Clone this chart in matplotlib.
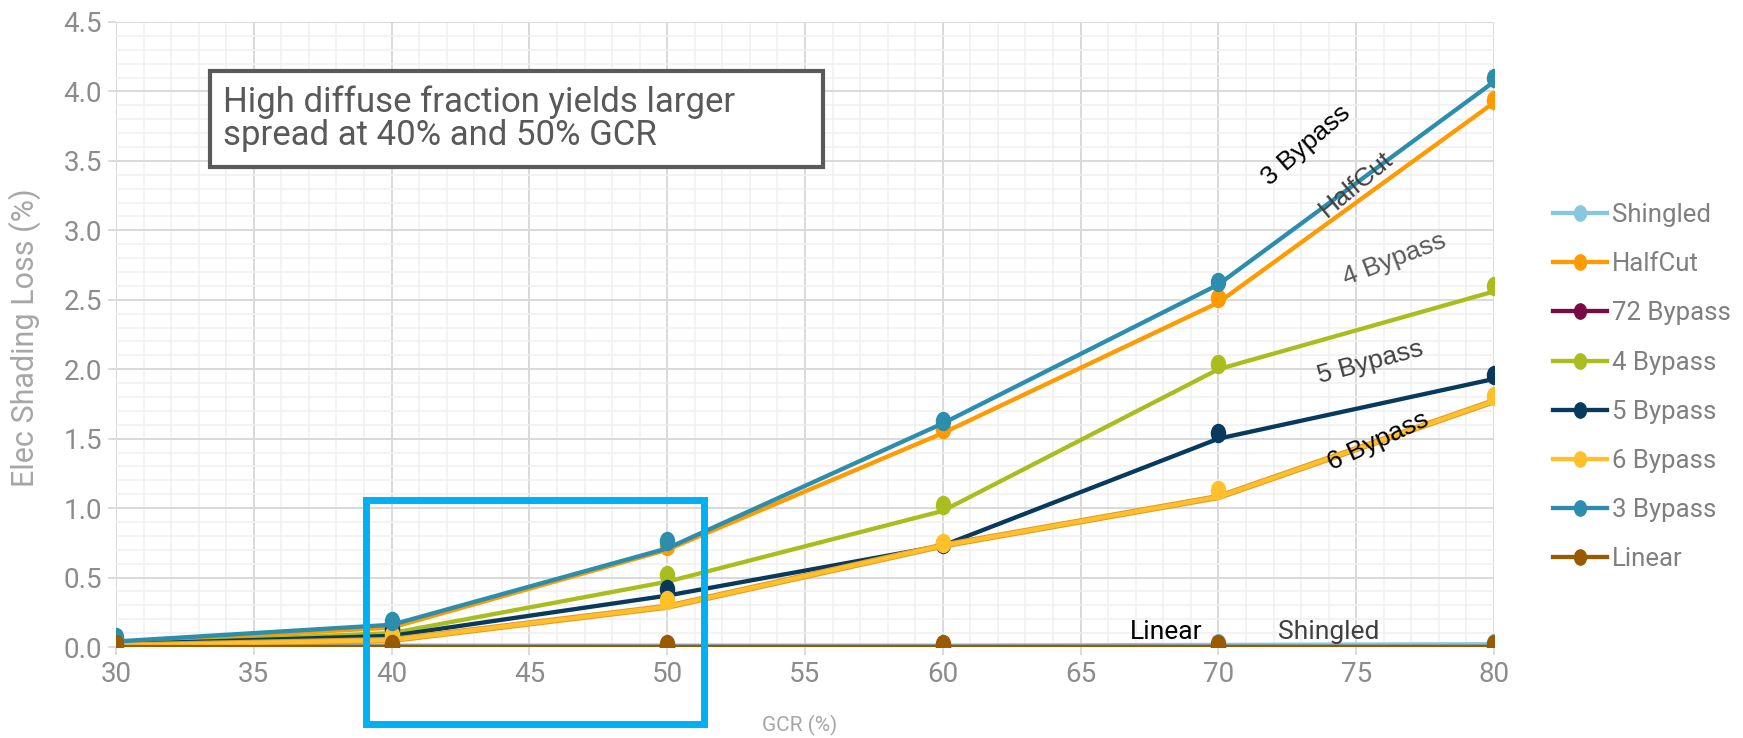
import numpy as np
import matplotlib
matplotlib.use("Agg")
import matplotlib.pyplot as plt
from matplotlib.path import Path
from matplotlib.transforms import Affine2D
from matplotlib.lines import Line2D
from matplotlib.patches import Rectangle
import matplotlib.patheffects as pe

# data
gcr = [30, 40, 50, 60, 70, 80]

series_names = ["Shingled", "HalfCut", "72 Bypass", "4 Bypass",
                "5 Bypass", "6 Bypass", "3 Bypass", "Linear"]

# line values
shingled = [0.01, 0.01, 0.01, 0.01, 0.015, 0.02]
halfcut = [0.03, 0.14, 0.70, 1.54, 2.48, 3.92]
bypass72 = [0.0, 0.0, 0.0, 0.0, 0.0, 0.0]
bypass4 = [0.02, 0.10, 0.47, 0.98, 2.00, 2.56]
bypass5 = [0.02, 0.08, 0.37, 0.73, 1.50, 1.93]
bypass6 = [0.01, 0.05, 0.29, 0.73, 1.08, 1.77]
bypass3 = [0.04, 0.16, 0.71, 1.61, 2.61, 4.07]
linear = [0.0, 0.0, 0.0, 0.0, 0.0, 0.0]

# marker values (markers sit a little off the lines in the original)
shingled_pts = [0.01, 0.01, 0.01, 0.01, 0.03, 0.03]
halfcut_pts = [0.05, 0.15, 0.73, 1.57, 2.51, 3.94]
bypass72_pts = [0.01, 0.01, 0.01, 0.01, 0.01, 0.01]
bypass4_pts = [0.04, 0.12, 0.52, 1.02, 2.04, 2.60]
bypass5_pts = [0.03, 0.13, 0.42, 0.74, 1.54, 1.96]
bypass6_pts = [0.03, 0.09, 0.34, 0.75, 1.13, 1.81]
bypass3_pts = [0.07, 0.19, 0.76, 1.63, 2.63, 4.10]
linear_pts = [0.02, 0.02, 0.02, 0.02, 0.02, 0.02]

colors = ["#86C8DE", "#FF9A00", "#7A0A45", "#A9BE1E",
          "#083A5E", "#FFC02A", "#2C8DAC", "#995A00"]

lines = [shingled, halfcut, bypass72, bypass4, bypass5, bypass6, bypass3, linear]
points = [shingled_pts, halfcut_pts, bypass72_pts, bypass4_pts,
          bypass5_pts, bypass6_pts, bypass3_pts, linear_pts]

font = ["Roboto", "DejaVu Sans"]
plain = ["Liberation Sans", "DejaVu Sans"]

W, H = 1743, 738

# vertical ellipse marker like the excel one
ell = Path.unit_circle().transformed(Affine2D().scale(0.78, 1.0))

fig = plt.figure(figsize=(W / 100, H / 100), dpi=100)
ax = fig.add_axes([116 / W, 1 - 647 / H, (1494 - 116) / W, (647 - 22) / H])

for i, name in enumerate(series_names):
    fx = None
    if name == "6 Bypass":
        fx = [pe.Stroke(linewidth=4.6, foreground="#E39A2C"), pe.Normal()]
    ax.plot(gcr, lines[i], color=colors[i], lw=3.1, zorder=3 + i,
            solid_capstyle="round", path_effects=fx)
    ax.plot(gcr, points[i], ls="none", marker=ell, ms=13,
            color=colors[i], zorder=3 + i)

ax.set_xlim(30, 80)
ax.set_ylim(0, 4.5)
ax.set_xticks(np.arange(30, 81, 5))
ax.set_yticks(np.arange(0, 4.51, 0.5))
ax.set_yticklabels(["%.1f" % v for v in np.arange(0, 4.51, 0.5)])
ax.set_xticks(np.arange(30, 81, 1), minor=True)
ax.set_yticks(np.arange(0, 4.51, 0.1), minor=True)
ax.grid(which="major", color="#D9D9D9", lw=1.4, zorder=0)
ax.grid(which="minor", color="#F0F0F0", lw=1.1, zorder=0)
ax.set_axisbelow(True)
for s in ax.spines.values():
    s.set_visible(False)
ax.tick_params(which="major", length=6, width=1.3, color="#D9D9D9",
               labelsize=20, labelcolor="#8C8C8C", pad=4)
ax.tick_params(which="minor", length=0)
for lab in ax.get_xticklabels() + ax.get_yticklabels():
    lab.set_family(font)

fig.text(800 / W, 1 - 725 / H, "GCR (%)", ha="center", va="center",
         fontsize=15, color="#A6A6A6", family=font)
fig.text(25 / W, 1 - 338 / H, "Elec Shading Loss (%)", ha="center",
         va="center", rotation=90, fontsize=22, color="#A6A6A6", family=font)

# series labels on the plot
ax.text(73.2, 3.61, "3 Bypass", rotation=41, ha="center", va="center",
        fontsize=19, color="black", family=plain, zorder=20)
ax.text(75.0, 3.33, "HalfCut", rotation=40, ha="center", va="center",
        fontsize=19, color="#404040", family=plain, zorder=20)
ax.text(76.4, 2.79, "4 Bypass", rotation=21, ha="center", va="center",
        fontsize=19, color="#595959", family=plain, zorder=20)
ax.text(75.5, 2.05, "5 Bypass", rotation=15, ha="center", va="center",
        fontsize=19, color="#404040", family=plain, zorder=20)
ax.text(75.8, 1.48, "6 Bypass", rotation=25, ha="center", va="center",
        fontsize=19, color="black", family=plain, zorder=20)
ax.text(68.1, 0.11, "Linear", ha="center", va="center",
        fontsize=19, color="black", family=font, zorder=20)
ax.text(74.0, 0.11, "Shingled", ha="center", va="center",
        fontsize=19, color="#404040", family=font, zorder=20)

# callout box
fig.patches.append(Rectangle((210 / W, 1 - 167 / H), (823 - 210) / W,
                             (167 - 71) / H, transform=fig.transFigure,
                             fc="white", ec="#595959", lw=3, zorder=30))
fig.text(223 / W, 1 - 119 / H,
         "High diffuse fraction yields larger\nspread at 40% and 50% GCR",
         ha="left", va="center", fontsize=25, color="#595959", family=font,
         linespacing=1.0, zorder=31)

# highlight rectangle around 40-50
fig.patches.append(Rectangle((366 / W, 1 - 724 / H), (704 - 366) / W,
                             (724 - 500) / H, transform=fig.transFigure,
                             fill=False, ec="#00B0F0", lw=5, zorder=40))

handles = [Line2D([], [], color=c, lw=3.1, marker=ell, ms=11) for c in colors]
leg = fig.legend(handles, series_names, loc="upper left",
                 bbox_to_anchor=(1553 / W, 1 - 203 / H), frameon=False,
                 labelcolor="#7F7F7F", handlelength=2.1,
                 handletextpad=0.2, labelspacing=0.98, borderaxespad=0,
                 borderpad=0, prop={"family": font, "size": 18.5})

fig.savefig("out.png", dpi=100)
